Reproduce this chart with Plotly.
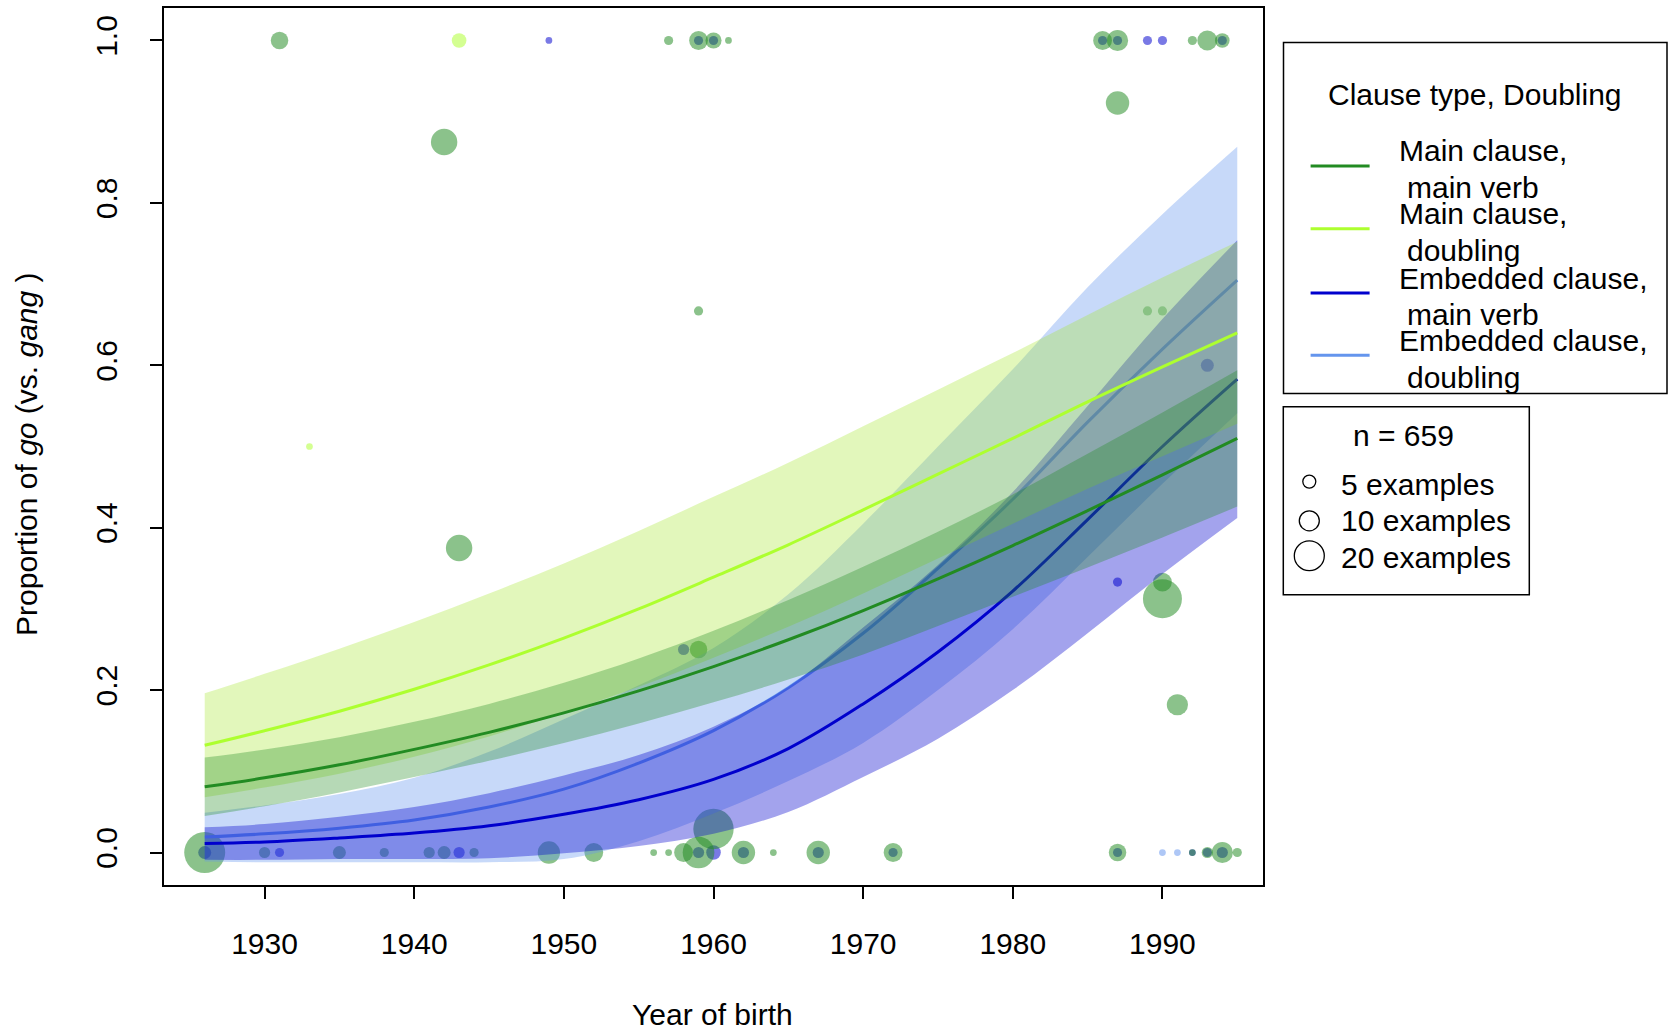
import numpy as np
import plotly.graph_objects as go

# ---------------- data ----------------
years = [1926, 1930, 1935, 1940, 1945, 1950, 1955, 1960, 1965, 1970, 1975, 1980, 1985, 1990, 1995]

# Main clause, main verb (forestgreen)
mv_fit = [0.081, 0.092, 0.108, 0.127, 0.148, 0.172, 0.199, 0.229, 0.262, 0.298, 0.337, 0.378, 0.421, 0.465, 0.510]
mv_lo = [0.045, 0.057, 0.074, 0.093, 0.113, 0.135, 0.159, 0.185, 0.213, 0.244, 0.279, 0.315, 0.351, 0.388, 0.426]
mv_hi = [0.117, 0.127, 0.142, 0.161, 0.183, 0.209, 0.239, 0.273, 0.311, 0.352, 0.395, 0.441, 0.491, 0.542, 0.594]

# Main clause, doubling (greenyellow)
md_fit = [0.132, 0.150, 0.174, 0.201, 0.231, 0.264, 0.300, 0.339, 0.379, 0.422, 0.466, 0.510, 0.555, 0.598, 0.640]
md_lo = [0.068, 0.080, 0.097, 0.118, 0.143, 0.172, 0.204, 0.240, 0.278, 0.319, 0.362, 0.405, 0.448, 0.488, 0.528]
md_hi = [0.196, 0.220, 0.251, 0.284, 0.319, 0.356, 0.396, 0.438, 0.480, 0.525, 0.570, 0.615, 0.662, 0.708, 0.752]

# Embedded clause, main verb (mediumblue)
em_fit = [0.011, 0.013, 0.018, 0.024, 0.033, 0.047, 0.065, 0.090, 0.128, 0.183, 0.247, 0.322, 0.410, 0.500, 0.583]
em_lo = [-0.009, -0.009, -0.008, -0.008, -0.007, -0.001, 0.008, 0.023, 0.050, 0.093, 0.140, 0.200, 0.270, 0.343, 0.412]
em_hi = [0.031, 0.035, 0.044, 0.056, 0.073, 0.095, 0.120, 0.155, 0.204, 0.277, 0.354, 0.444, 0.550, 0.657, 0.754]

# Embedded clause, doubling (cornflowerblue)
ed_fit = [0.019, 0.023, 0.030, 0.040, 0.056, 0.078, 0.110, 0.150, 0.203, 0.270, 0.350, 0.435, 0.530, 0.620, 0.705]
ed_lo = [-0.011, -0.012, -0.012, -0.012, -0.012, -0.008, 0.014, 0.048, 0.088, 0.135, 0.200, 0.275, 0.364, 0.454, 0.541]
ed_hi = [0.049, 0.058, 0.072, 0.092, 0.124, 0.164, 0.206, 0.252, 0.318, 0.405, 0.500, 0.595, 0.696, 0.786, 0.869]

# observed speaker proportions (year, proportion, number of examples)
mv_pt_year = [1926, 1930, 1931, 1935, 1938, 1941, 1942, 1942, 1943, 1944, 1949, 1952, 1956, 1957, 1957,
              1958, 1959, 1959, 1959, 1959, 1960, 1960, 1961, 1962, 1964, 1967, 1972, 1986, 1987, 1987,
              1987, 1989, 1990, 1990, 1990, 1991, 1992, 1992, 1993, 1993, 1994, 1994, 1995]
mv_pt_prop = [0.0, 0.0, 1.0, 0.0, 0.0, 0.0, 0.0, 0.875, 0.375, 0.0, 0.0, 0.0, 0.0, 0.0, 1.0,
              0.0, 0.0, 0.25, 0.667, 1.0, 1.0, 0.029, 1.0, 0.0, 0.0, 0.0, 0.0, 1.0, 1.0, 0.0,
              0.923, 0.667, 0.667, 0.333, 0.3125, 0.182, 1.0, 0.0, 1.0, 0.0, 1.0, 0.0, 0.0]
mv_pt_n = [35, 4, 8, 5, 3, 4, 5, 16, 16, 3, 12, 9, 2, 2, 3,
           9, 22, 8, 3, 9, 7, 34, 2, 13, 2, 13, 9, 9, 11, 8,
           13, 3, 3, 9, 32, 11, 3, 2, 10, 4, 6, 11, 3]

md_pt_year = [1933, 1943]
md_pt_prop = [0.5, 1.0]
md_pt_n = [2, 6]

em_pt_year = [1926, 1931, 1943, 1949, 1958, 1960, 1987, 1989, 1990, 1993,
              1959, 1960, 1986, 1987, 1994, 1959, 1962, 1967, 1972, 1987, 1992, 1993, 1994]
em_pt_prop = [0.0, 0.0, 0.0, 1.0, 0.25, 0.0, 0.333, 1.0, 1.0, 0.6,
              1.0, 1.0, 1.0, 1.0, 1.0, 0.0, 0.0, 0.0, 0.0, 0.0, 0.0, 0.0, 0.0]
em_pt_n = [5, 3, 4, 2, 4, 6, 3, 3, 3, 5,
           3, 3, 3, 3, 3, 4, 4, 4, 3, 3, 2, 3, 4]

ed_pt_year = [1990, 1991]
ed_pt_prop = [0.0, 0.0]
ed_pt_n = [2, 2]

x_ticks = [1930, 1940, 1950, 1960, 1970, 1980, 1990]
y_ticks = [0.0, 0.2, 0.4, 0.6, 0.8, 1.0]
y_ticktext = ["0.0", "0.2", "0.4", "0.6", "0.8", "1.0"]

legend_labels = [("Main clause,", " main verb"), ("Main clause,", " doubling"),
                 ("Embedded clause,", " main verb"), ("Embedded clause,", " doubling")]
size_labels = ["5 examples", "10 examples", "20 examples"]
size_ns = [5, 10, 20]
n_total_label = "n = 659"

# ---------------- styling ----------------
FONT = "Liberation Sans, Arial, sans-serif"
FS = 30
C_MV, C_MD, C_EM, C_ED = "#228B22", "#ADFF2F", "#0000CD", "#6495ED"
P_MV, P_MD, P_EM, P_ED = ("rgba(34,139,34,0.75)", "rgba(173,255,47,0.75)",
                          "rgba(0,0,205,0.75)", "rgba(100,149,237,0.75)")
B_MV, B_MD, B_EM, B_ED = ("rgba(34,139,34,0.33)", "rgba(165,230,45,0.32)",
                          "rgba(0,0,205,0.36)", "rgba(100,149,237,0.36)")


def msize(ns):
    return [7.6 * np.sqrt(n) - 4 for n in ns]


fig = go.Figure()

# points first (bands are drawn over them)
for xs, ys, ns, col in [(ed_pt_year, ed_pt_prop, ed_pt_n, P_ED),
                        (em_pt_year, em_pt_prop, em_pt_n, P_EM),
                        (md_pt_year, md_pt_prop, md_pt_n, P_MD),
                        (mv_pt_year, mv_pt_prop, mv_pt_n, P_MV)]:
    fig.add_trace(go.Scatter(x=xs, y=ys, mode="markers",
                             marker=dict(size=msize(ns), color=col, line=dict(width=0)),
                             showlegend=False, hoverinfo="skip"))

# bands then lines, group by group
for lo, hi, fit, bcol, lcol in [(ed_lo, ed_hi, ed_fit, B_ED, C_ED),
                                (em_lo, em_hi, em_fit, B_EM, C_EM),
                                (md_lo, md_hi, md_fit, B_MD, C_MD),
                                (mv_lo, mv_hi, mv_fit, B_MV, C_MV)]:
    fig.add_trace(go.Scatter(x=years, y=lo, mode="lines",
                             line=dict(width=0, shape="spline", smoothing=1.0),
                             showlegend=False, hoverinfo="skip"))
    fig.add_trace(go.Scatter(x=years, y=hi, mode="lines",
                             line=dict(width=0, shape="spline", smoothing=1.0),
                             fill="tonexty", fillcolor=bcol,
                             showlegend=False, hoverinfo="skip"))
    fig.add_trace(go.Scatter(x=years, y=fit, mode="lines",
                             line=dict(width=3, color=lcol, shape="spline", smoothing=1.0),
                             showlegend=False, hoverinfo="skip"))

# ---------------- layout ----------------
L, R, T, B = 164, 1263, 6, 885
W, H = R - L, B - T


def px(x):
    return (x - L) / W


def py(y):
    return (B - y) / H


axis_common = dict(showgrid=False, zeroline=False, showline=True, linecolor="black",
                   linewidth=1.5, mirror=True, ticks="outside", ticklen=12, tickwidth=1.5,
                   tickcolor="black", tickfont=dict(family=FONT, size=FS, color="black"))

fig.update_layout(
    width=1669, height=1033,
    margin=dict(l=L, r=1669 - R, t=T, b=1033 - B, pad=0),
    plot_bgcolor="white", paper_bgcolor="white",
    font=dict(family=FONT, size=FS, color="black"),
    xaxis=dict(range=[1923.28, 1996.72], tickmode="array", tickvals=x_ticks,
               ticklabelstandoff=19, **axis_common),
    yaxis=dict(range=[-0.04, 1.04], tickmode="array", tickvals=y_ticks, ticktext=y_ticktext,
               tickangle=-90, ticklabelstandoff=21, **axis_common),
)

ann = []
shapes = []
tf = dict(family=FONT, size=FS, color="black")

# axis titles
ann.append(dict(text="Year of birth", x=px(712), y=py(1015), xref="paper", yref="paper",
                showarrow=False, xanchor="center", yanchor="middle", borderpad=0, font=tf))
ann.append(dict(text="Proportion of <i>go</i> (vs. <i>gang</i> )", x=px(27), y=py(453),
                xref="paper", yref="paper", showarrow=False, textangle=-90,
                xanchor="center", yanchor="middle", font=tf))

# legend 1
shapes.append(dict(type="rect", xref="paper", yref="paper", x0=px(1283.5), x1=px(1667),
                   y0=py(40.7), y1=py(392.5), line=dict(color="black", width=1.5)))
ann.append(dict(text="Clause type, Doubling", x=px(1474.5), y=py(93), xref="paper", yref="paper",
                showarrow=False, xanchor="center", yanchor="middle", font=tf))
entry_y = [164.3, 227.3, 291.7, 354.0]
for (l1, l2), col, ly in zip(legend_labels, [C_MV, C_MD, C_EM, C_ED], entry_y):
    shapes.append(dict(type="line", xref="paper", yref="paper", x0=px(1310.6), x1=px(1369.6),
                       y0=py(ly), y1=py(ly), line=dict(color=col, width=3)))
    ann.append(dict(text=l1, x=px(1397), y=py(ly - 15), xref="paper", yref="paper",
                    showarrow=False, xanchor="left", yanchor="middle", font=tf))
    ann.append(dict(text=l2.strip(), x=px(1404.6), y=py(ly + 22), xref="paper", yref="paper",
                    showarrow=False, xanchor="left", yanchor="middle", font=tf))

# legend 2
shapes.append(dict(type="rect", xref="paper", yref="paper", x0=px(1283.3), x1=px(1529.3),
                   y0=py(405.7), y1=py(594), line=dict(color="black", width=1.5)))
ann.append(dict(text=n_total_label, x=px(1403.3), y=py(434.2), xref="paper", yref="paper",
                showarrow=False, xanchor="center", yanchor="middle", font=tf))
for lab, n, cy, ty in zip(size_labels, size_ns, [480.7, 520.0, 555.0], [484.0, 520.0, 556.7]):
    r = (7.6 * np.sqrt(n) - 4) / 2
    shapes.append(dict(type="circle", xref="paper", yref="paper",
                       x0=px(1309.3 - r), x1=px(1309.3 + r), y0=py(cy + r), y1=py(cy - r),
                       line=dict(color="black", width=1.3)))
    ann.append(dict(text=lab, x=px(1339.3), y=py(ty), xref="paper", yref="paper",
                    showarrow=False, xanchor="left", yanchor="middle", font=tf))

fig.update_layout(annotations=ann, shapes=shapes)

fig.write_html("out.html", config={"displayModeBar": False},
               post_script="document.body.style.margin='0';document.body.style.overflow='hidden';")
